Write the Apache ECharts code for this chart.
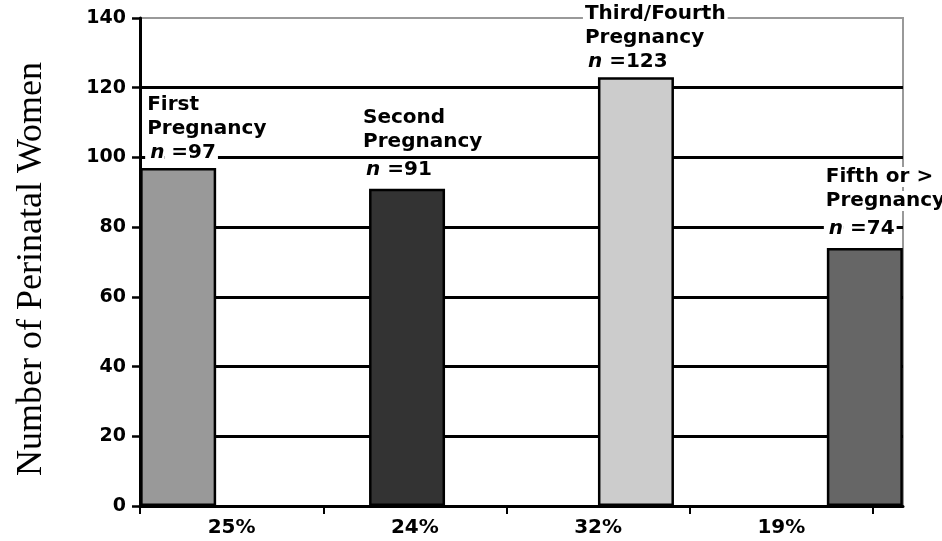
<!DOCTYPE html>
<html><head><meta charset="utf-8">
<script src="https://cdn.jsdelivr.net/npm/echarts/dist/echarts.min.js"></script>
<style>html,body{margin:0;padding:0;background:#fff}#c{width:942px;height:541px}</style>
</head><body><div id="c"></div>
<script>
// ---- data ----
const groupNames = ['First\nPregnancy', 'Second\nPregnancy', 'Third/Fourth\nPregnancy', 'Fifth or >\nPregnancy'];
const counts = [97, 91, 123, 74];
const percentLabels = ['25%', '24%', '32%', '19%'];
const yAxisTitle = 'Number of Perinatal Women';
const yMin = 0, yMax = 140, yInterval = 20;

// ---- styling / layout (not data) ----
const barColors = ['#999999', '#333333', '#cccccc', '#666666'];
const labelDx = [5, -8, -15, -3];
const labelGap = [0, 8, 0, 8];
const boldFont = 'DejaVu Sans';

const chart = echarts.init(document.getElementById('c'), null, {renderer: 'canvas'});

const tokenBase = {fontFamily: boldFont, fontWeight: 'bold', fontSize: 20, color: '#000', backgroundColor: '#fff', lineHeight: 24, padding: [0, 2]};

const barData = counts.map((v, i) => ({
  value: [i, v],
  itemStyle: {color: barColors[i]},
  label: {
    show: true,
    position: [labelDx[i], -3],
    align: 'left',
    verticalAlign: 'bottom',
    formatter: () => {
      const lines = groupNames[i].split('\n');
      return lines.map(l => `{t|${l}}`).join('\n') + `\n{n|n}{v| =${v}}`;
    },
    rich: {
      t: Object.assign({}, tokenBase),
      n: Object.assign({}, tokenBase, {fontStyle: 'italic', lineHeight: 24 + labelGap[i], padding: [0, 0, 0, 5]}),
      v: Object.assign({}, tokenBase, {lineHeight: 24 + labelGap[i], padding: [0, 2, 0, 0]})
    }
  }
}));

const option = {
  animation: false,
  backgroundColor: '#fff',
  grid: [
    {left: 140, right: 39, top: 18, bottom: 35, show: true, borderColor: '#999', borderWidth: 2, backgroundColor: 'transparent'},
    {left: 140, right: 69, top: 18, bottom: 35}
  ],
  xAxis: [
    {gridIndex: 0, type: 'value', min: -1/6, max: 3 + 1/6,
     axisLine: {show: true, onZero: false, lineStyle: {color: '#000', width: 3}},
     axisTick: {show: false}, axisLabel: {show: false}, splitLine: {show: false}},
    {gridIndex: 1, type: 'category', data: percentLabels, boundaryGap: true,
     axisLine: {show: false},
     axisTick: {show: true, length: 8, lineStyle: {color: '#000', width: 2}},
     axisLabel: {margin: 12, fontFamily: boldFont, fontWeight: 'bold', fontSize: 20, color: '#000'}}
  ],
  yAxis: [
    {gridIndex: 0, type: 'value', min: yMin, max: yMax, interval: yInterval,
     name: yAxisTitle, nameLocation: 'middle', nameRotate: 90, nameGap: 90,
     nameTextStyle: {fontFamily: 'Liberation Serif', fontSize: 36, color: '#000', padding: [0, 14, 0, 0]},
     axisLine: {show: true, onZero: false, lineStyle: {color: '#000', width: 3}},
     axisTick: {show: true, length: 8, lineStyle: {color: '#000', width: 2.5}},
     axisLabel: {margin: 14, fontFamily: boldFont, fontWeight: 'bold', fontSize: 19, color: '#000'},
     splitLine: {show: true, showMaxLine: false, lineStyle: {color: '#000', width: 2.8}}},
    {gridIndex: 1, type: 'value', min: yMin, max: yMax, show: false}
  ],
  series: [{
    type: 'bar',
    xAxisIndex: 0, yAxisIndex: 0,
    barWidth: 76,
    itemStyle: {borderColor: '#000', borderWidth: 2.5},
    data: barData
  }]
};
chart.setOption(option);
</script>
</body></html>
